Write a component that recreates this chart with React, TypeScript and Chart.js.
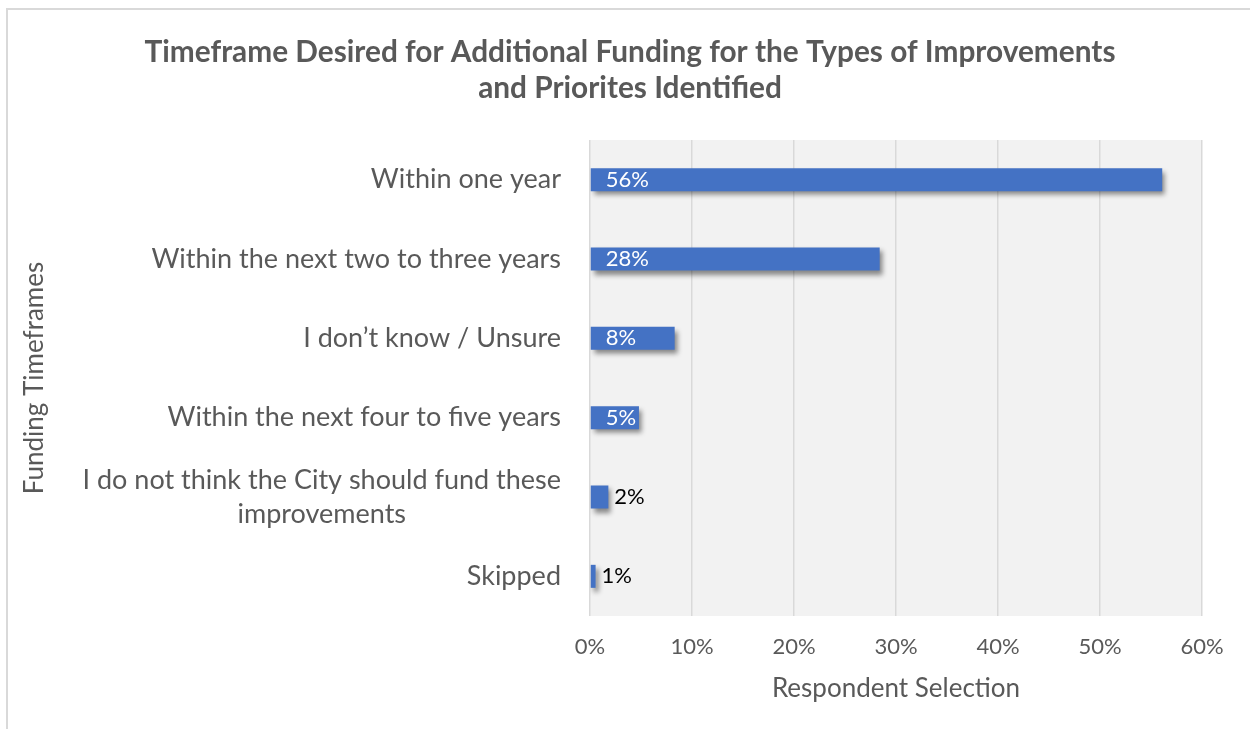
import React, { useEffect, useRef } from "react";
import { Chart, registerables } from "chart.js";

Chart.register(...registerables);

const categories: (string | string[])[] = [
  "Within one year",
  "Within the next two to three years",
  "I don\u2019t know / Unsure",
  "Within the next four to five years",
  ["I do not think the City should fund these", "improvements"],
  "Skipped",
];
const values: number[] = [56.1, 28.4, 8.3, 4.8, 1.8, 0.55];
const xTicks: number[] = [0, 10, 20, 30, 40, 50, 60];
const titleLines: string[] = [
  "Timeframe Desired for Additional Funding for the Types of Improvements",
  "and Priorites Identified",
];
const xTitle = "Respondent Selection";
const yTitle = "Funding Timeframes";

const FONT = "Lato";
const GREY = "#595959";
const BAR = "#4472C4";

const plotBg = {
  id: "plotBg",
  beforeDraw(chart: any) {
    const { ctx, chartArea } = chart;
    ctx.save();
    ctx.fillStyle = "#f2f2f2";
    ctx.fillRect(chartArea.left, chartArea.top, chartArea.right - chartArea.left, chartArea.bottom - chartArea.top);
    ctx.restore();
  },
};

const barShadow = {
  id: "barShadow",
  beforeDatasetDraw(chart: any) {
    const ctx = chart.ctx;
    ctx.save();
    ctx.shadowColor = "rgba(0,0,0,0.45)";
    ctx.shadowBlur = 5;
    ctx.shadowOffsetX = 3;
    ctx.shadowOffsetY = 4;
  },
  afterDatasetDraw(chart: any) {
    chart.ctx.restore();
  },
};

const catLabels = {
  id: "catLabels",
  afterDraw(chart: any) {
    const { ctx, chartArea } = chart;
    const y = chart.scales.y;
    ctx.save();
    ctx.font = `27px ${FONT}`;
    ctx.fillStyle = GREY;
    ctx.textBaseline = "middle";
    ctx.textAlign = "center";
    const right = chartArea.left - 29;
    const lh = 34;
    categories.forEach((c, i) => {
      const lines = Array.isArray(c) ? c : [c];
      const w = Math.max(...lines.map((l) => ctx.measureText(l).width));
      const cx = right - w / 2;
      const cy = y.getPixelForTick(i);
      const y0 = cy - ((lines.length - 1) * lh) / 2;
      lines.forEach((l, j) => ctx.fillText(l, cx, y0 + j * lh));
    });
    ctx.restore();
  },
};

const dataLabels = {
  id: "dataLabels",
  afterDatasetsDraw(chart: any) {
    const { ctx } = chart;
    const meta = chart.getDatasetMeta(0);
    ctx.save();
    ctx.font = `22px ${FONT}`;
    ctx.textBaseline = "middle";
    ctx.textAlign = "left";
    meta.data.forEach((el: any, i: number) => {
      const txt = Math.round(values[i]) + "%";
      const tw = ctx.measureText(txt).width;
      const start = Math.min(el.base, el.x);
      const end = Math.max(el.base, el.x);
      if (end - start > tw + 17) {
        ctx.fillStyle = "#ffffff";
        ctx.fillText(txt, start + 15, el.y);
      } else {
        ctx.fillStyle = "#000000";
        ctx.fillText(txt, end + 6, el.y);
      }
    });
    ctx.restore();
  },
};

export default function App() {
  const ref = useRef<HTMLCanvasElement>(null);
  useEffect(() => {
    const chart = new Chart(ref.current!, {
      type: "bar",
      data: {
        labels: categories as any,
        datasets: [
          {
            data: values,
            backgroundColor: BAR,
            borderWidth: 0,
            barPercentage: 0.29,
            categoryPercentage: 1,
          },
        ],
      },
      options: {
        indexAxis: "y",
        animation: false,
        responsive: false,
        devicePixelRatio: 1,
        layout: { padding: 0 },
        plugins: {
          legend: { display: false },
          tooltip: { enabled: false },
          title: {
            display: true,
            text: titleLines,
            color: GREY,
            font: { family: FONT, size: 29.8, weight: "bold", lineHeight: 36 / 29.8 },
            padding: { top: 24, bottom: 34 },
          },
        },
        scales: {
          x: {
            min: 0,
            max: 60,
            afterBuildTicks: (s: any) => {
              s.ticks = xTicks.map((v) => ({ value: v }));
            },
            afterFit: (s: any) => {
              s.height = 113;
              s.paddingRight = 50;
            },
            grid: { color: "#d9d9d9", lineWidth: 1.5, drawTicks: false },
            border: { display: false },
            ticks: {
              color: GREY,
              font: { family: FONT, size: 22 },
              padding: 18,
              callback: (v: any) => v + "%",
            },
            title: {
              display: true,
              text: xTitle,
              color: GREY,
              font: { family: FONT, size: 26 },
              padding: { top: 0, bottom: 25 },
            },
          },
          y: {
            afterFit: (s: any) => {
              s.width = 582;
            },
            grid: { display: false },
            border: { display: false },
            ticks: { display: false },
            title: {
              display: true,
              text: yTitle,
              color: GREY,
              font: { family: FONT, size: 26 },
              padding: { top: 11, bottom: 0 },
            },
          },
        },
      },
      plugins: [plotBg, barShadow, catLabels, dataLabels],
    });
    return () => chart.destroy();
  }, []);
  return (
    <div
      style={{
        position: "fixed",
        left: 6,
        top: 8,
        borderLeft: "2px solid #d9d9d9",
        borderTop: "2px solid #d9d9d9",
        background: "#fff",
      }}
    >
      <canvas ref={ref} width={1244} height={719} style={{ display: "block" }} />
    </div>
  );
}
